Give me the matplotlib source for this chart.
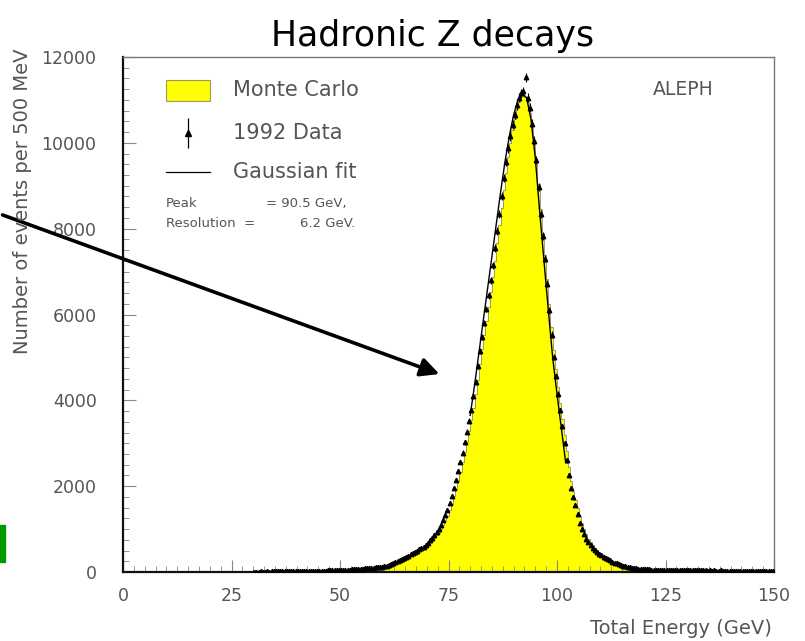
import numpy as np
import matplotlib
matplotlib.use("Agg")
import matplotlib.pyplot as plt
from matplotlib.patches import Rectangle

# histogram binning: 500 MeV bins from 30 to 150 GeV
e_lo, e_hi, bin_w = 30.0, 150.0, 0.5

# 1992 data, events per 500 MeV bin (30.0 ... 149.5 GeV)
data_counts = [
    8, 11, 6, 12, 9, 10, 14, 9, 12, 15,
    13, 16, 12, 17, 15, 18, 20, 16, 21, 19,
    22, 19, 24, 23, 26, 24, 27, 29, 27, 31,
    30, 33, 34, 33, 37, 38, 41, 40, 44, 45,
    48, 50, 53, 55, 58, 61, 64, 66, 70, 74,
    77, 82, 86, 90, 96, 100, 106, 111, 117, 125,
    135, 148, 163, 182, 204, 225, 248, 272, 298, 324,
    350, 381, 410, 438, 468, 497, 525, 553, 583, 630,
    680, 738, 800, 862, 928, 1010, 1100, 1205, 1320, 1455,
    1600, 1770, 1950, 2140, 2350, 2560, 2780, 3020, 3270, 3520,
    3780, 4090, 4420, 4790, 5150, 5480, 5800, 6130, 6450, 6800,
    7150, 7550, 7950, 8350, 8750, 9180, 9550, 9870, 10150, 10420,
    10650, 10880, 11050, 11150, 11200, 11530, 11050, 10820, 10450, 10050,
    9600, 8980, 8350, 7830, 7300, 6720, 6100, 5530, 5000, 4560,
    4150, 3770, 3400, 3000, 2600, 2260, 1950, 1740, 1550, 1340,
    1150, 1010, 880, 780, 700, 625, 560, 505, 460, 425,
    390, 358, 330, 298, 270, 244, 220, 200, 180, 162,
    145, 132, 120, 110, 100, 92, 85, 80, 75, 71,
    68, 64, 62, 58, 57, 53, 52, 49, 50, 47,
    46, 44, 45, 42, 43, 41, 40, 42, 39, 41,
    38, 40, 37, 39, 36, 38, 35, 37, 36, 34,
    36, 33, 35, 34, 32, 35, 33, 31, 34, 32,
    33, 31, 32, 30, 33, 31, 29, 32, 30, 31,
    29, 31, 30, 28, 30, 29, 31, 28, 30, 29,
]

# Monte Carlo prediction, same binning
mc_counts = [
    5, 6, 6, 7, 7, 8, 8, 9, 9, 10,
    10, 11, 11, 12, 12, 13, 14, 14, 15, 16,
    17, 18, 19, 20, 21, 22, 23, 24, 25, 27,
    28, 30, 31, 33, 35, 37, 39, 41, 43, 45,
    47, 49, 52, 54, 57, 60, 63, 66, 69, 73,
    76, 80, 84, 89, 94, 99, 104, 110, 116, 123,
    130, 140, 152, 166, 182, 200, 220, 242, 265, 290,
    316, 343, 372, 400, 428, 458, 488, 518, 548, 585,
    625, 675, 730, 790, 852, 920, 1000, 1090, 1195, 1310,
    1440, 1590, 1760, 1940, 2130, 2340, 2560, 2790, 3030, 3290,
    3550, 3830, 4150, 4480, 4850, 5200, 5530, 5860, 6180, 6520,
    6880, 7250, 7660, 8080, 8480, 8900, 9300, 9680, 10000, 10300,
    10550, 10780, 10950, 11080, 11130, 11070, 10950, 10700, 10380, 10000,
    9580, 9050, 8450, 7900, 7380, 6820, 6250, 5700, 5180, 4720,
    4300, 3930, 3560, 3190, 2810, 2450, 2130, 1880, 1680, 1480,
    1300, 1140, 1000, 880, 780, 700, 625, 560, 505, 460,
    420, 382, 348, 315, 285, 258, 234, 212, 192, 174,
    157, 142, 128, 116, 106, 97, 89, 82, 76, 71,
    66, 62, 59, 56, 53, 51, 49, 47, 45, 44,
    43, 42, 41, 40, 39, 38, 37, 37, 36, 35,
    35, 34, 34, 33, 33, 32, 32, 31, 31, 30,
    30, 30, 29, 29, 29, 28, 28, 28, 27, 27,
    27, 27, 26, 26, 26, 26, 25, 25, 25, 25,
    25, 24, 24, 24, 24, 24, 23, 23, 23, 23,
]

# gaussian fit curve
fit_energy = [80, 81, 82, 83, 84, 85, 86, 87, 88, 89, 90, 91, 92,
              93, 94, 95, 96, 97, 98, 99, 100, 101, 102]
fit_counts = [3650, 4350, 5100, 5850, 6600, 7350, 8100, 8850, 9550, 10150,
              10650, 11000, 11150, 11050, 10550, 9650, 8400, 7250, 6100,
              5000, 4150, 3350, 2550]

x_ticks = [0, 25, 50, 75, 100, 125, 150]
y_ticks = [0, 2000, 4000, 6000, 8000, 10000, 12000]

edges = np.arange(e_lo, e_hi + bin_w / 2, bin_w)
centers = edges[:-1] + bin_w / 2
data_counts = np.array(data_counts, dtype=float)
mc_counts = np.array(mc_counts, dtype=float)

grey = "#555555"
fig = plt.figure(figsize=(8.05, 6.41), dpi=100)
ax = fig.add_axes([123 / 805, 69 / 641, 651 / 805, 515 / 641])

# MC histogram
ax.stairs(mc_counts, edges, fill=True, color="#ffff00", zorder=1)
ax.stairs(mc_counts, edges, color="#777755", lw=0.5, zorder=2)

# data points with statistical errors
ax.errorbar(centers, data_counts, yerr=np.sqrt(data_counts), fmt="^",
            ms=3.2, color="black", elinewidth=0.8, capsize=0, zorder=4)

# gaussian fit
ax.plot(fit_energy, fit_counts, color="black", lw=1.0, zorder=3)

ax.set_xlim(0, 150)
ax.set_ylim(0, 12000)
ax.set_xticks(x_ticks)
ax.set_yticks(y_ticks)
ax.set_xticks(np.arange(0, 151, 2.5), minor=True)
ax.set_yticks(np.arange(0, 12001, 250), minor=True)
ax.tick_params(axis="both", which="major", direction="in", length=9,
               width=0.8, color="#888888", labelcolor=grey, labelsize=12.5)
ax.tick_params(axis="both", which="minor", direction="in", length=4,
               width=0.6, color="#888888")
ax.tick_params(axis="x", which="major", pad=11)
ax.tick_params(axis="y", which="major", pad=19)

for side in ["left", "bottom"]:
    ax.spines[side].set_linewidth(1.6)
    ax.spines[side].set_color("#111111")
for side in ["top", "right"]:
    ax.spines[side].set_linewidth(1.0)
    ax.spines[side].set_color("#777777")

# axis titles
fig.text(772 / 805, 1 - 628 / 641, "Total Energy (GeV)", ha="right",
         va="center", fontsize=14, color=grey)
fig.text(23 / 805, 1 - 48 / 641, "Number of events per 500 MeV",
         rotation=90, ha="center", va="top", fontsize=14, color=grey)

# handwritten-style title
fig.text(433 / 805, 1 - 36 / 641, "Hadronic Z decays", ha="center",
         va="center", fontsize=25, color="black")

# legend drawn in axes fraction
ax.add_patch(Rectangle((0.066, 0.9146), 0.0676, 0.041, transform=ax.transAxes,
                       facecolor="#ffff00", edgecolor="#999966", lw=0.8,
                       zorder=5))
ax.text(0.169, 0.936, "Monte Carlo", transform=ax.transAxes, va="center",
        fontsize=15, color=grey)
ax.errorbar([0.0998], [0.852], yerr=[0.029], fmt="^", ms=4, color="black",
            elinewidth=0.9, capsize=0, transform=ax.transAxes, zorder=5)
ax.text(0.169, 0.852, "1992 Data", transform=ax.transAxes, va="center",
        fontsize=15, color=grey)
ax.plot([0.066, 0.1336], [0.777, 0.777], color="black", lw=0.9,
        transform=ax.transAxes)
ax.text(0.169, 0.777, "Gaussian fit", transform=ax.transAxes, va="center",
        fontsize=15, color=grey)
ax.text(0.066, 0.7165, "Peak", transform=ax.transAxes, va="center",
        fontsize=9.5, color=grey)
ax.text(0.2197, 0.7165, "= 90.5 GeV,", transform=ax.transAxes, va="center",
        fontsize=9.5, color=grey)
ax.text(0.066, 0.676, "Resolution  =", transform=ax.transAxes, va="center",
        fontsize=9.5, color=grey)
ax.text(0.272, 0.676, "6.2 GeV.", transform=ax.transAxes, va="center",
        fontsize=9.5, color=grey)
ax.text(0.86, 0.936, "ALEPH", transform=ax.transAxes, va="center",
        ha="center", fontsize=13.5, color=grey)

# hand-drawn arrow and green mark
fig.patches.append(matplotlib.patches.FancyArrowPatch(
    (0 / 805, 1 - 214 / 641), (442 / 805, 1 - 375 / 641),
    transform=fig.transFigure, arrowstyle="-|>", mutation_scale=28,
    color="black", lw=2.6))
fig.patches.append(Rectangle((0, 1 - 562 / 641), 5 / 805, 37 / 641,
                             transform=fig.transFigure, color="#009900"))

fig.savefig("out.png", dpi=100)
